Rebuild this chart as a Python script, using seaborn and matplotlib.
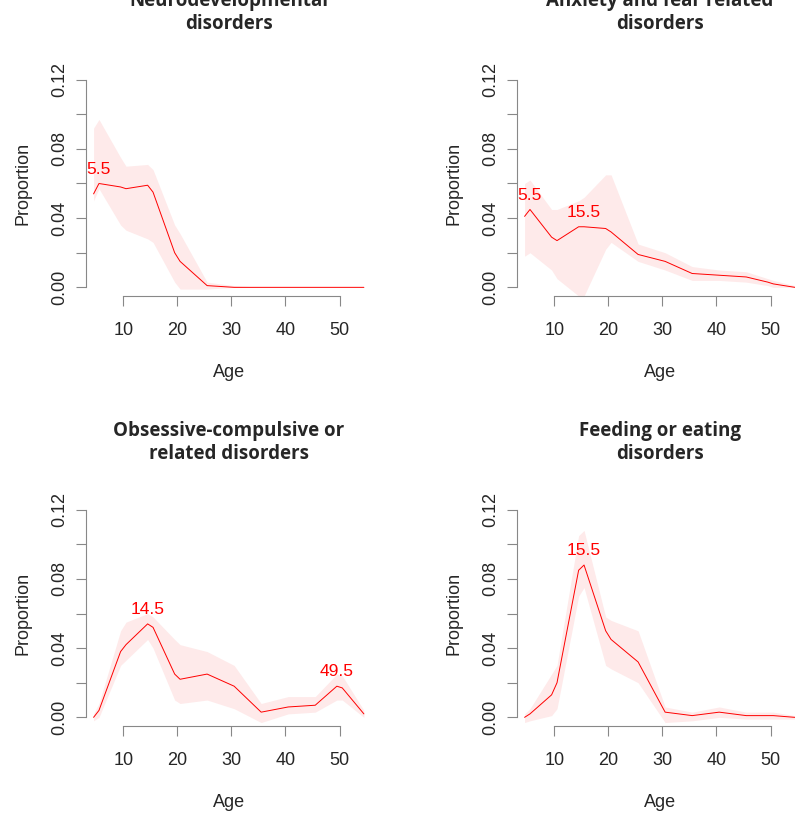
import matplotlib
matplotlib.use('Agg')
import matplotlib.pyplot as plt
import numpy as np
import pandas as pd
import seaborn as sns

ages = [4.5, 5.5, 9.5, 10.5, 14.5, 15.5, 19.5, 20.5, 25.5, 30.5, 35.5, 40.5, 45.5, 49.5, 50.5, 54.5]

titles = ['Neurodevelopmental\ndisorders', 'Anxiety and fear related\ndisorders',
          'Obsessive-compulsive or\nrelated disorders', 'Feeding or eating\ndisorders']

neuro = [0.054, 0.060, 0.058, 0.057, 0.059, 0.055, 0.020, 0.015, 0.001, 0, 0, 0, 0, 0, 0, 0]
neuro_lo = [0.050, 0.057, 0.036, 0.033, 0.028, 0.026, 0.003, -0.001, -0.001, 0, 0, 0, 0, 0, 0, 0]
neuro_hi = [0.092, 0.097, 0.075, 0.070, 0.071, 0.068, 0.036, 0.031, 0.003, 0.001, 0, 0, 0, 0, 0, 0]

anx = [0.041, 0.045, 0.029, 0.027, 0.035, 0.035, 0.034, 0.032, 0.019, 0.015, 0.008, 0.007, 0.006, 0.003, 0.002, 0.0]
anx_lo = [0.018, 0.020, 0.010, 0.005, -0.005, -0.005, 0.022, 0.026, 0.015, 0.010, 0.004, 0.004, 0.003, 0.001, 0.0, 0.0]
anx_hi = [0.060, 0.062, 0.045, 0.045, 0.050, 0.052, 0.065, 0.065, 0.025, 0.020, 0.012, 0.010, 0.009, 0.005, 0.004, 0.001]

ocd = [0.0, 0.004, 0.038, 0.042, 0.054, 0.052, 0.025, 0.022, 0.025, 0.018, 0.003, 0.006, 0.007, 0.018, 0.017, 0.002]
ocd_lo = [-0.002, 0.0, 0.030, 0.033, 0.045, 0.040, 0.010, 0.008, 0.010, 0.005, -0.003, 0.002, 0.003, 0.010, 0.010, 0.0]
ocd_hi = [0.002, 0.008, 0.050, 0.055, 0.060, 0.058, 0.045, 0.042, 0.038, 0.030, 0.008, 0.012, 0.012, 0.025, 0.024, 0.004]

feed = [0.0, 0.002, 0.013, 0.020, 0.085, 0.088, 0.050, 0.045, 0.032, 0.003, 0.001, 0.003, 0.001, 0.001, 0.001, 0.0]
feed_lo = [-0.003, -0.002, 0.001, 0.005, 0.070, 0.075, 0.030, 0.028, 0.020, -0.003, -0.002, 0.0, -0.001, -0.001, -0.001, -0.001]
feed_hi = [0.002, 0.005, 0.025, 0.030, 0.105, 0.108, 0.058, 0.056, 0.050, 0.006, 0.003, 0.006, 0.003, 0.003, 0.003, 0.001]

peaks = [[5.5], [5.5, 15.5], [14.5, 49.5], [15.5]]

series = [(neuro, neuro_lo, neuro_hi), (anx, anx_lo, anx_hi), (ocd, ocd_lo, ocd_hi), (feed, feed_lo, feed_hi)]

sns.set_style('white')
plt.rcParams['font.family'] = ['Liberation Sans', 'DejaVu Sans']

W, H = 795, 815
fig = plt.figure(figsize=(W / 100, H / 100), dpi=100)
lefts = [86, 517, 86, 517]
tops = [71, 71, 501, 501]
aw, ah = 286, 225

grey = '#888888'
for i, (vals, lo, hi) in enumerate(series):
    ax = fig.add_axes([lefts[i] / W, 1 - (tops[i] + ah) / H, aw / W, ah / H])
    df = pd.DataFrame({'Age': ages, 'Proportion': vals, 'lo': lo, 'hi': hi})
    ax.fill_between(df['Age'], df['lo'], df['hi'], color='#feeaea', lw=0)
    sns.lineplot(data=df, x='Age', y='Proportion', ax=ax, color='red', lw=0.7)
    for p in peaks[i]:
        v = df.loc[df['Age'] == p, 'Proportion'].iloc[0]
        ax.text(p, v + 0.004, f'{p}', color='red', fontsize=12.5, ha='center', va='bottom')
    ax.set_xlim(3.1, 56)
    ax.set_ylim(-0.005, 0.125)
    ax.set_xticks([10, 20, 30, 40, 50])
    ax.set_yticks(np.arange(0, 0.121, 0.02))
    ax.set_yticklabels(['0.00', '', '0.04', '', '0.08', '', '0.12'])
    for s in ['top', 'right']:
        ax.spines[s].set_visible(False)
    ax.spines['left'].set_bounds(0, 0.12)
    ax.spines['bottom'].set_bounds(10, 50)
    for s in ['left', 'bottom']:
        ax.spines[s].set_color(grey)
    ax.tick_params(axis='both', direction='out', length=7, color=grey, labelsize=13,
                   left=True, bottom=True)
    ax.tick_params(axis='x', pad=12)
    ax.tick_params(axis='y', pad=6, labelrotation=90)
    for t in ax.get_yticklabels():
        t.set_va('center')
    ax.set_xlabel('Age', fontsize=13, labelpad=18)
    ax.set_ylabel('Proportion', fontsize=13, labelpad=14)
    ax.set_title(titles[i], fontsize=13.5, fontweight='bold', family='Open Sans', pad=30,
                 linespacing=1.25)
    for c in ax.collections + ax.lines:
        c.set_clip_on(False)

fig.savefig('out.png', dpi=100)
